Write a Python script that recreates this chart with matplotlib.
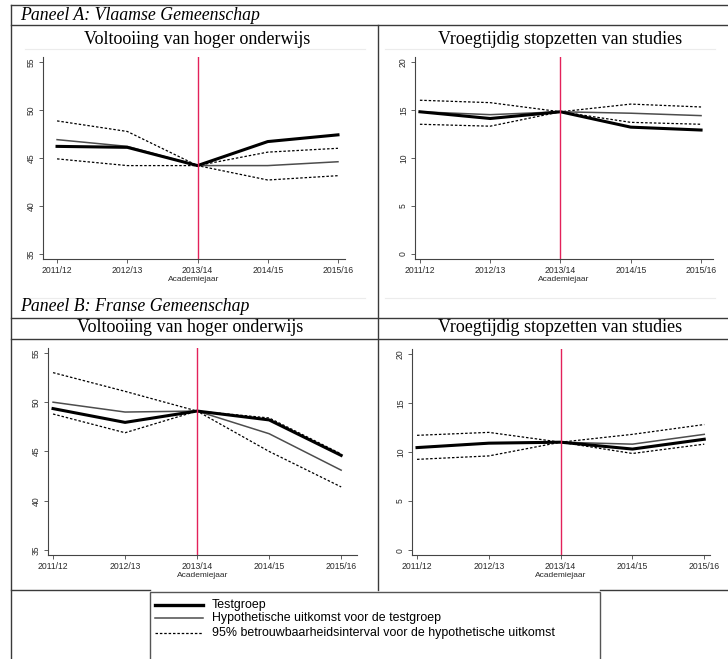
import matplotlib.pyplot as plt
from matplotlib.lines import Line2D
from matplotlib.patches import Rectangle

W, H = 728, 659

jaren = ["2011/12", "2012/13", "2013/14", "2014/15", "2015/16"]
x = list(range(len(jaren)))

# Paneel A - Vlaamse Gemeenschap
a_volt_test = [46.2, 46.1, 44.2, 46.7, 47.4]
a_volt_hyp = [46.9, 46.2, 44.2, 44.2, 44.6]
a_volt_hi = [48.85, 47.75, 44.2, 45.6, 46.0]
a_volt_lo = [44.9, 44.2, 44.2, 42.7, 43.15]

a_stop_test = [14.8, 14.1, 14.8, 13.2, 12.9]
a_stop_hyp = [14.8, 14.5, 14.8, 14.65, 14.4]
a_stop_hi = [16.0, 15.75, 14.8, 15.6, 15.3]
a_stop_lo = [13.5, 13.3, 14.8, 13.7, 13.5]

# Paneel B - Franse Gemeenschap
b_volt_test = [49.35, 47.95, 49.1, 48.2, 44.6]
b_volt_hyp = [50.0, 49.0, 49.1, 46.8, 43.1]
b_volt_hi = [53.0, 51.1, 49.1, 48.4, 44.75]
b_volt_lo = [48.8, 46.9, 49.1, 45.0, 41.4]

b_stop_test = [10.45, 10.9, 11.0, 10.3, 11.3]
b_stop_hyp = [10.45, 10.9, 11.0, 10.8, 11.8]
b_stop_hi = [11.7, 12.0, 11.0, 11.8, 12.8]
b_stop_lo = [9.25, 9.6, 11.0, 9.85, 10.8]

titel_volt = "Voltooiing van hoger onderwijs"
titel_stop = "Vroegtijdig stopzetten van studies"
legend_labels = ["Testgroep",
                 "Hypothetische uitkomst voor de testgroep",
                 "95% betrouwbaarheidsinterval voor de hypothetische uitkomst"]

SANS = "Liberation Sans"
SERIF = "Liberation Serif"
RED = "#e3215a"
GRID = "#3a3a3a"

fig = plt.figure(figsize=(W / 100, H / 100), dpi=100)


def fx(px):
    return px / W


def fy(py):
    return 1 - py / H


def hline(y, x0, x1, color=GRID, lw=1.0):
    fig.add_artist(Line2D([fx(x0), fx(x1)], [fy(y), fy(y)], color=color, lw=lw))


def vline(x0, y0, y1, color=GRID, lw=1.0):
    fig.add_artist(Line2D([fx(x0), fx(x0)], [fy(y0), fy(y1)], color=color, lw=lw))


def make_plot(box, xlim, ylim, yticks, test, hyp, hi, lo):
    l, t, r, b = box
    ax = fig.add_axes([fx(l), fy(b), (r - l) / W, (b - t) / H])
    ax.plot(x, hi, color="black", lw=0.9, ls=(0, (2, 1.5)))
    ax.plot(x, lo, color="black", lw=0.9, ls=(0, (2, 1.5)))
    ax.plot(x, hyp, color="#4d4d4d", lw=1.1)
    ax.plot(x, test, color="black", lw=2.2)
    ax.axvline(2, color=RED, lw=1.0)
    ax.set_xlim(*xlim)
    ax.set_ylim(*ylim)
    ax.set_xticks(x)
    ax.set_xticklabels(jaren, fontsize=6.2, family=SANS, color="#2a2a2a")
    ax.set_yticks(yticks)
    ax.set_yticklabels([str(v) for v in yticks], fontsize=6.2, family=SANS,
                       rotation=90, va="center", color="#2a2a2a")
    ax.tick_params(length=3, width=0.6, color="#444444", pad=2)
    ax.set_xlabel("Academiejaar", fontsize=6, family=SANS, labelpad=1, color="#2a2a2a")
    for s in ["top", "right"]:
        ax.spines[s].set_visible(False)
    for s in ["left", "bottom"]:
        ax.spines[s].set_color("#444444")
        ax.spines[s].set_linewidth(0.8)
    return ax


# Paneel A
make_plot((43, 57, 345, 259), (-0.2, 4.1), (34.48, 55.5), [35, 40, 45, 50, 55],
          a_volt_test, a_volt_hyp, a_volt_hi, a_volt_lo)
make_plot((415, 57, 713, 259), (-0.07, 4.17), (-0.52, 20.5), [0, 5, 10, 15, 20],
          a_stop_test, a_stop_hyp, a_stop_hi, a_stop_lo)

# Paneel B
make_plot((48, 348, 357, 555), (-0.07, 4.22), (34.49, 55.5), [35, 40, 45, 50, 55],
          b_volt_test, b_volt_hyp, b_volt_hi, b_volt_lo)
make_plot((412, 349, 710, 555), (-0.07, 4.08), (-0.5, 20.5), [0, 5, 10, 15, 20],
          b_stop_test, b_stop_hyp, b_stop_hi, b_stop_lo)

# tabelkader
hline(5, 11, W)
vline(11, 5, H)
hline(25, 11, W)
vline(378, 25, 590)
hline(318, 11, W)
hline(339, 11, W)
hline(590, 11, 150)
hline(590, 600, W)

# vage randen van de ingevoegde figuren
for y0 in (49, 298):
    hline(y0, 25, 365, color="#ececec", lw=0.8)
    hline(y0, 385, 715, color="#ececec", lw=0.8)

fig.text(fx(20), fy(15), "Paneel A: Vlaamse Gemeenschap", family=SERIF, style="italic",
         fontsize=12.8, va="center", ha="left")
fig.text(fx(20), fy(307), "Paneel B: Franse Gemeenschap", family=SERIF, style="italic",
         fontsize=12.8, va="center", ha="left")
fig.text(fx(197), fy(39), titel_volt, family=SERIF, fontsize=13, ha="center", va="center")
fig.text(fx(560), fy(39), titel_stop, family=SERIF, fontsize=13, ha="center", va="center")
fig.text(fx(190), fy(328), titel_volt, family=SERIF, fontsize=13, ha="center", va="center")
fig.text(fx(560), fy(328), titel_stop, family=SERIF, fontsize=13, ha="center", va="center")

# legenda
fig.add_artist(Rectangle((fx(150), fy(H + 5)), (600 - 150) / W, (H + 5 - 592) / H,
                         transform=fig.transFigure, fill=False, edgecolor="#555555", lw=1.0))
styles = [dict(color="black", lw=2.4),
          dict(color="#4d4d4d", lw=1.1),
          dict(color="black", lw=0.9, ls=(0, (2, 1.5)))]
for ly, lab, st in zip([605, 618, 633], legend_labels, styles):
    fig.add_artist(Line2D([fx(155), fx(203)], [fy(ly), fy(ly)], **st))
    fig.text(fx(212), fy(ly), lab, family=SANS, fontsize=8.9, va="center", ha="left")

fig.savefig("out.png", dpi=100)
